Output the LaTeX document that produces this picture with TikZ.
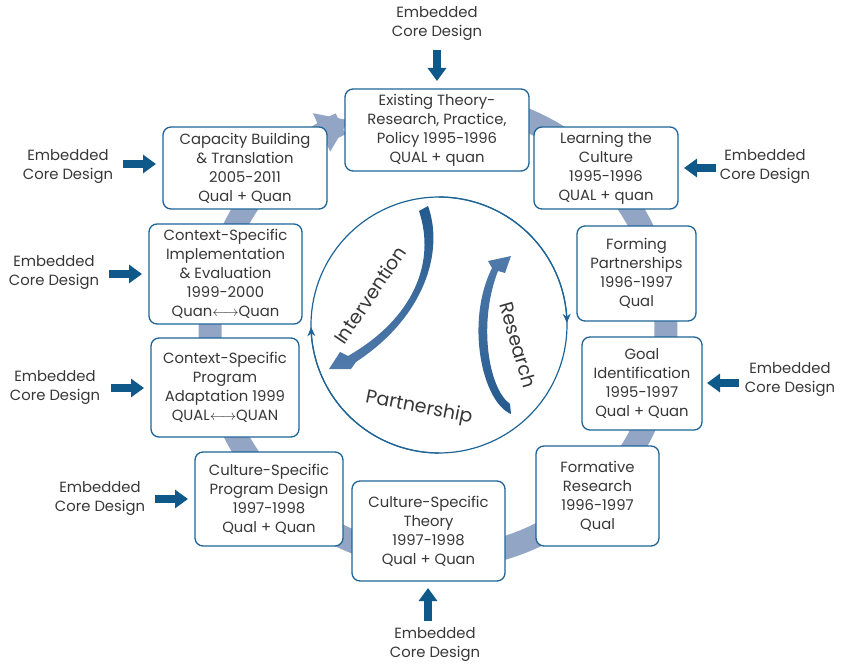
\documentclass[tikz,border=0pt]{standalone}
\usepackage{fontspec}
\setmainfont{Poppins}
\usetikzlibrary{arrows.meta}

\definecolor{ringband}{RGB}{146,165,197}
\definecolor{boxline}{RGB}{30,100,150}
\definecolor{feedarrow}{RGB}{14,88,138}
\definecolor{txt}{RGB}{55,55,55}
\definecolor{loopdark}{RGB}{36,90,142}
\definecolor{looplight}{RGB}{80,122,170}

\tikzset{
  stage/.style={draw=boxline, line width=1.3pt, rounded corners=8pt, fill=white,
    align=center, text=txt, inner sep=0pt, font=\fontsize{14.8}{19}\selectfont},
  feedlabel/.style={align=center, text=txt, inner sep=0pt, font=\fontsize{14.8}{19}\selectfont},
  feed/.style={draw=feedarrow, line width=8pt, -{Triangle[length=13pt,width=18pt]}},
  looplabel/.style={text=txt, inner sep=0pt, font=\fontsize{19}{19}\selectfont},
  partcircle/.style={draw=boxline, line width=1.2pt, -{Stealth[length=9pt,width=8pt]}}
}
\newcommand{\lra}{$\longleftrightarrow$}

\begin{document}
\begin{tikzpicture}[x=1pt,y=-1pt]
\useasboundingbox (0,0) rectangle (841,666);

% the cycle band running behind the stages
\draw[ringband, line width=23pt, -{Triangle[length=30pt,width=40pt]}]
  plot[domain=-100:247, samples=150] ({438+228*cos(\x)},{330+228*sin(\x)});

% stages
\node[stage, minimum width=184pt, minimum height=82pt] (exist) at (437,130)
  {Existing Theory-\\Research, Practice,\\Policy 1995-1996\\QUAL + quan};
\node[stage, minimum width=144pt, minimum height=82pt] (learn) at (606,168)
  {Learning the\\Culture\\1995-1996\\QUAL + quan};
\node[stage, minimum width=119pt, minimum height=95pt] (forming) at (636.5,273.5)
  {Forming\\Partnerships\\1996-1997\\Qual};
\node[stage, minimum width=120pt, minimum height=93pt] (goal) at (642,383.5)
  {Goal\\Identification\\1995-1997\\Qual + Quan};
\node[stage, minimum width=123pt, minimum height=100pt] (formative) at (597.5,496)
  {Formative\\Research\\1996-1997\\Qual};
\node[stage, minimum width=153pt, minimum height=100pt] (theory) at (428.5,531)
  {Culture-Specific\\Theory\\1997-1998\\Qual + Quan};
\node[stage, minimum width=148pt, minimum height=94pt] (progdesign) at (269,499)
  {Culture-Specific\\Program Design\\1997-1998\\Qual + Quan};
\node[stage, minimum width=148pt, minimum height=99pt] (adapt) at (225,387.5)
  {Context-Specific\\Program\\Adaptation 1999\\QUAL\lra QUAN};
\node[stage, minimum width=153pt, minimum height=100pt] (impl) at (225.5,274)
  {Context-Specific\\Implementation\\\& Evaluation\\1999-2000\\Quan\lra Quan};
\node[stage, minimum width=164pt, minimum height=82pt] (capacity) at (245,168)
  {Capacity Building\\\& Translation\\2005-2011\\Qual + Quan};

% embedded core design inputs
\node[feedlabel] (ecTop) at (437,24) {Embedded\\Core Design};
\node[feedlabel] (ecCap) at (68,167) {Embedded\\Core Design};
\node[feedlabel] (ecImpl) at (54,273) {Embedded\\Core Design};
\node[feedlabel] (ecAdapt) at (55,388) {Embedded\\Core Design};
\node[feedlabel] (ecProg) at (100,499) {Embedded\\Core Design};
\node[feedlabel] (ecBottom) at (435,645) {Embedded\\Core Design};
\node[feedlabel] (ecLearn) at (765,167) {Embedded\\Core Design};
\node[feedlabel] (ecGoal) at (790,380) {Embedded\\Core Design};

\coordinate (tTop) at (437,50);    \coordinate (hTop) at (437,81);
\coordinate (tCap) at (123,164);   \coordinate (hCap) at (156,164);
\coordinate (tImpl) at (109,274);  \coordinate (hImpl) at (142,274);
\coordinate (tAdapt) at (111,388); \coordinate (hAdapt) at (144,388);
\coordinate (tProg) at (155,499);  \coordinate (hProg) at (188,499);
\coordinate (tBottom) at (428,621);\coordinate (hBottom) at (428,588);
\coordinate (tLearn) at (716,168); \coordinate (hLearn) at (684,168);
\coordinate (tGoal) at (739,383);  \coordinate (hGoal) at (707,383);

\draw[feed] (tTop) -- (hTop);
\draw[feed] (tCap) -- (hCap);
\draw[feed] (tImpl) -- (hImpl);
\draw[feed] (tAdapt) -- (hAdapt);
\draw[feed] (tProg) -- (hProg);
\draw[feed] (tBottom) -- (hBottom);
\draw[feed] (tLearn) -- (hLearn);
\draw[feed] (tGoal) -- (hGoal);

% partnership circle with two arrowheads
\draw[partcircle] plot[domain=-90:179, samples=120] ({439+128*cos(\x)},{325+128*sin(\x)});
\draw[partcircle] plot[domain=90:359, samples=120] ({439+128*cos(\x)},{325+128*sin(\x)});

% intervention sweep
\shade[top color=loopdark, bottom color=looplight] (419,211) -- (428,206)
  .. controls (444,250) and (426,316) .. (356,362)
  -- (351,369) -- (329,369) -- (340,352) -- (348,356)
  .. controls (414,318) and (436,262) .. (419,211) -- cycle;

% research sweep
\shade[top color=looplight, bottom color=loopdark] (510,404) -- (511,414)
  .. controls (482,402) and (465,322) .. (492,268)
  -- (488,261) -- (511,256) -- (505,273) -- (498,271)
  .. controls (478,322) and (488,388) .. (510,404) -- cycle;

\node[looplabel, rotate=56] (intv) at (370,295) {Intervention};
\node[looplabel, rotate=-74] (res) at (518,345) {Research};
\node[looplabel, rotate=-11] (partner) at (419,408) {Partnership};
\end{tikzpicture}
\end{document}
